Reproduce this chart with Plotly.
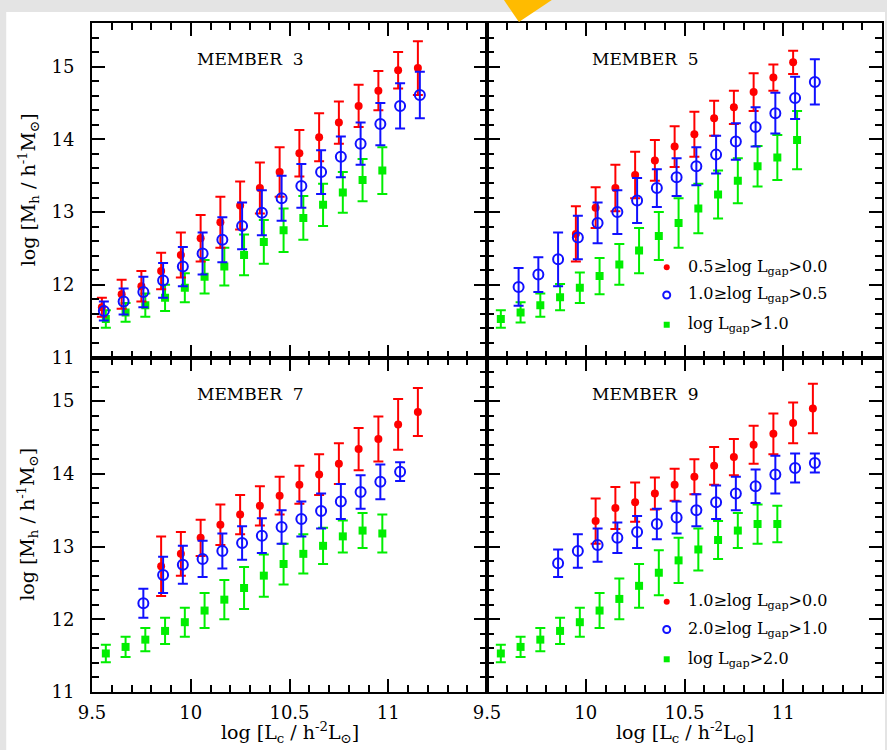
import plotly.graph_objects as go
from plotly.subplots import make_subplots

# ---------------- data ----------------
# MEMBER 3
m3_red_x = [9.55, 9.65, 9.75, 9.85, 9.95, 10.05, 10.15, 10.25, 10.35, 10.45, 10.55, 10.65, 10.75, 10.85, 10.95, 11.05, 11.15]
m3_red_y = [11.69, 11.87, 11.98, 12.19, 12.41, 12.64, 12.86, 13.09, 13.33, 13.55, 13.81, 14.03, 14.23, 14.46, 14.67, 14.95, 14.98]
m3_red_e = [0.13, 0.20, 0.21, 0.25, 0.31, 0.32, 0.35, 0.33, 0.35, 0.34, 0.32, 0.33, 0.29, 0.29, 0.27, 0.25, 0.37]
m3_blue_x = [9.56, 9.66, 9.76, 9.86, 9.96, 10.06, 10.16, 10.26, 10.36, 10.46, 10.56, 10.66, 10.76, 10.86, 10.96, 11.06, 11.16]
m3_blue_y = [11.64, 11.77, 11.90, 12.06, 12.25, 12.43, 12.62, 12.81, 12.99, 13.19, 13.36, 13.55, 13.76, 13.94, 14.21, 14.46, 14.61]
m3_blue_e = [0.13, 0.18, 0.21, 0.24, 0.27, 0.29, 0.31, 0.32, 0.31, 0.31, 0.30, 0.30, 0.28, 0.29, 0.29, 0.31, 0.32]
m3_green_x = [9.57, 9.67, 9.77, 9.87, 9.97, 10.07, 10.17, 10.27, 10.37, 10.47, 10.57, 10.67, 10.77, 10.87, 10.97]
m3_green_y = [11.53, 11.62, 11.72, 11.82, 11.96, 12.11, 12.25, 12.41, 12.59, 12.75, 12.92, 13.10, 13.27, 13.44, 13.57]
m3_green_e = [0.12, 0.13, 0.16, 0.18, 0.20, 0.23, 0.26, 0.28, 0.30, 0.30, 0.30, 0.29, 0.28, 0.29, 0.32]

# MEMBER 5
m5_red_x = [9.95, 10.05, 10.15, 10.25, 10.35, 10.45, 10.55, 10.65, 10.75, 10.85, 10.95, 11.05]
m5_red_y = [12.70, 13.06, 13.33, 13.51, 13.71, 13.90, 14.07, 14.29, 14.44, 14.65, 14.85, 15.06]
m5_red_e = [0.38, 0.28, 0.32, 0.32, 0.28, 0.28, 0.31, 0.24, 0.23, 0.26, 0.18, 0.16]
m5_blue_x = [9.66, 9.76, 9.86, 9.96, 10.06, 10.16, 10.26, 10.36, 10.46, 10.56, 10.66, 10.76, 10.86, 10.96, 11.06, 11.16]
m5_blue_y = [11.97, 12.14, 12.35, 12.65, 12.85, 13.00, 13.16, 13.33, 13.48, 13.63, 13.79, 13.97, 14.17, 14.36, 14.57, 14.79]
m5_blue_e = [0.26, 0.24, 0.37, 0.30, 0.28, 0.30, 0.31, 0.26, 0.26, 0.26, 0.26, 0.25, 0.27, 0.28, 0.29, 0.31]
m5_green_x = [9.57, 9.67, 9.77, 9.87, 9.97, 10.07, 10.17, 10.27, 10.37, 10.47, 10.57, 10.67, 10.77, 10.87, 10.97, 11.07]
m5_green_y = [11.53, 11.62, 11.72, 11.83, 11.96, 12.12, 12.28, 12.47, 12.67, 12.85, 13.05, 13.24, 13.43, 13.63, 13.75, 13.99]
m5_green_e = [0.12, 0.14, 0.16, 0.18, 0.21, 0.25, 0.28, 0.31, 0.33, 0.34, 0.34, 0.33, 0.31, 0.28, 0.31, 0.40]

# MEMBER 7
m7_red_x = [9.85, 9.95, 10.05, 10.15, 10.25, 10.35, 10.45, 10.55, 10.65, 10.75, 10.85, 10.95, 11.05, 11.15]
m7_red_y = [12.73, 12.90, 13.12, 13.30, 13.44, 13.56, 13.70, 13.85, 13.99, 14.14, 14.34, 14.48, 14.68, 14.85]
m7_red_e = [0.41, 0.30, 0.25, 0.28, 0.27, 0.27, 0.26, 0.26, 0.28, 0.28, 0.29, 0.31, 0.35, 0.33]
m7_blue_x = [9.76, 9.86, 9.96, 10.06, 10.16, 10.26, 10.36, 10.46, 10.56, 10.66, 10.76, 10.86, 10.96, 11.06]
m7_blue_y = [12.22, 12.61, 12.75, 12.83, 12.94, 13.05, 13.15, 13.27, 13.38, 13.49, 13.62, 13.75, 13.89, 14.03]
m7_blue_e = [0.20, 0.25, 0.26, 0.25, 0.24, 0.23, 0.24, 0.23, 0.24, 0.24, 0.24, 0.23, 0.24, 0.13]
m7_green_x = [9.57, 9.67, 9.77, 9.87, 9.97, 10.07, 10.17, 10.27, 10.37, 10.47, 10.57, 10.67, 10.77, 10.87, 10.97]
m7_green_y = [11.53, 11.62, 11.72, 11.84, 11.96, 12.12, 12.27, 12.43, 12.60, 12.76, 12.90, 13.01, 13.14, 13.22, 13.18]
m7_green_e = [0.12, 0.14, 0.16, 0.18, 0.20, 0.24, 0.27, 0.29, 0.29, 0.28, 0.27, 0.25, 0.22, 0.24, 0.26]

# MEMBER 9
m9_red_x = [10.05, 10.15, 10.25, 10.35, 10.45, 10.55, 10.65, 10.75, 10.85, 10.95, 11.05, 11.15]
m9_red_y = [13.35, 13.53, 13.61, 13.73, 13.85, 13.96, 14.11, 14.23, 14.40, 14.55, 14.70, 14.90]
m9_red_e = [0.31, 0.29, 0.27, 0.22, 0.22, 0.24, 0.26, 0.25, 0.26, 0.28, 0.28, 0.34]
m9_blue_x = [9.86, 9.96, 10.06, 10.16, 10.26, 10.36, 10.46, 10.56, 10.66, 10.76, 10.86, 10.96, 11.06, 11.16]
m9_blue_y = [12.77, 12.94, 13.02, 13.12, 13.20, 13.31, 13.40, 13.50, 13.61, 13.73, 13.83, 13.99, 14.08, 14.15]
m9_blue_e = [0.19, 0.23, 0.23, 0.21, 0.22, 0.21, 0.22, 0.22, 0.23, 0.23, 0.23, 0.26, 0.20, 0.13]
m9_green_x = [9.57, 9.67, 9.77, 9.87, 9.97, 10.07, 10.17, 10.27, 10.37, 10.47, 10.57, 10.67, 10.77, 10.87, 10.97]
m9_green_y = [11.53, 11.62, 11.72, 11.84, 11.96, 12.12, 12.28, 12.46, 12.64, 12.81, 12.96, 13.09, 13.22, 13.31, 13.31]
m9_green_e = [0.12, 0.14, 0.16, 0.18, 0.20, 0.24, 0.28, 0.30, 0.31, 0.31, 0.29, 0.26, 0.24, 0.27, 0.25]

panel_titles = ["MEMBER&nbsp;&nbsp;3", "MEMBER&nbsp;&nbsp;5", "MEMBER&nbsp;&nbsp;7", "MEMBER&nbsp;&nbsp;9"]
legend_top = ["0.5≥log L<sub>gap</sub>>0.0", "1.0≥log L<sub>gap</sub>>0.5", "log L<sub>gap</sub>>1.0"]
legend_bot = ["1.0≥log L<sub>gap</sub>>0.0", "2.0≥log L<sub>gap</sub>>1.0", "log L<sub>gap</sub>>2.0"]
legend_marker_x = [10.41, 10.41, 10.41]
legend_marker_y = [12.24, 11.86, 11.45]
x_tickvals = [9.5, 10, 10.5, 11]
x_ticktext = ["9.5", "10", "10.5", "11"]
y_tickvals = [11, 12, 13, 14, 15]

# ---------------- figure ----------------
RED, BLUE, GREEN = "#ff0000", "#1010ff", "#00ee00"
FONT = "DejaVu Serif"

fig = make_subplots(rows=2, cols=2, horizontal_spacing=0, vertical_spacing=0)

panels = [
    (1, 1, (m3_red_x, m3_red_y, m3_red_e), (m3_blue_x, m3_blue_y, m3_blue_e), (m3_green_x, m3_green_y, m3_green_e)),
    (1, 2, (m5_red_x, m5_red_y, m5_red_e), (m5_blue_x, m5_blue_y, m5_blue_e), (m5_green_x, m5_green_y, m5_green_e)),
    (2, 1, (m7_red_x, m7_red_y, m7_red_e), (m7_blue_x, m7_blue_y, m7_blue_e), (m7_green_x, m7_green_y, m7_green_e)),
    (2, 2, (m9_red_x, m9_red_y, m9_red_e), (m9_blue_x, m9_blue_y, m9_blue_e), (m9_green_x, m9_green_y, m9_green_e)),
]

def eb(arr, col):
    return dict(type="data", array=arr, visible=True, color=col, thickness=2, width=5)

for r, c, red, blue, green in panels:
    fig.add_trace(go.Scatter(x=green[0], y=green[1], mode="markers",
                             marker=dict(symbol="square", size=8, color=GREEN),
                             error_y=eb(green[2], GREEN), showlegend=False), row=r, col=c)
    fig.add_trace(go.Scatter(x=red[0], y=red[1], mode="markers",
                             marker=dict(symbol="circle", size=8, color=RED),
                             error_y=eb(red[2], RED), showlegend=False), row=r, col=c)
    fig.add_trace(go.Scatter(x=blue[0], y=blue[1], mode="markers",
                             marker=dict(symbol="circle-open", size=10, color=BLUE, line=dict(width=2)),
                             error_y=eb(blue[2], BLUE), showlegend=False), row=r, col=c)

# in-panel legends (right column panels)
for r, labels in [(1, legend_top), (2, legend_bot)]:
    fig.add_trace(go.Scatter(x=legend_marker_x[:1], y=legend_marker_y[:1], mode="markers",
                             marker=dict(symbol="circle", size=6, color=RED), showlegend=False), row=r, col=2)
    fig.add_trace(go.Scatter(x=legend_marker_x[1:2], y=legend_marker_y[1:2], mode="markers",
                             marker=dict(symbol="circle-open", size=7, color=BLUE, line=dict(width=2)),
                             showlegend=False), row=r, col=2)
    fig.add_trace(go.Scatter(x=legend_marker_x[2:], y=legend_marker_y[2:], mode="markers",
                             marker=dict(symbol="square", size=6, color=GREEN), showlegend=False), row=r, col=2)
    xr = "x2" if r == 1 else "x4"
    yr = "y2" if r == 1 else "y4"
    for lab, yv in zip(labels, legend_marker_y):
        fig.add_annotation(x=10.51, y=yv, xref=xr, yref=yr, text=lab, showarrow=False,
                           xanchor="left", yanchor="middle",
                           font=dict(family=FONT, size=16, color="black"))

# panel titles
for i, t in enumerate(panel_titles):
    xr = ["x", "x2", "x3", "x4"][i]
    yr = ["y", "y2", "y3", "y4"][i]
    fig.add_annotation(x=10.30, y=15.1, xref=xr, yref=yr, text=t, showarrow=False,
                       xanchor="center", yanchor="middle",
                       font=dict(family=FONT, size=17, color="black"))

axis_common = dict(showline=True, linecolor="black", linewidth=2, mirror="allticks",
                   ticks="inside", ticklen=13, tickwidth=1.5, tickcolor="black",
                   showgrid=False, zeroline=False,
                   tickfont=dict(family=FONT, size=18, color="black"))

for r in (1, 2):
    for c in (1, 2):
        fig.update_xaxes(range=[9.5, 11.5], tickmode="array", tickvals=x_tickvals, ticktext=x_ticktext,
                         minor=dict(dtick=0.1, tick0=9.5, ticks="inside", ticklen=7, tickwidth=1.5,
                                    tickcolor="black", showgrid=False),
                         showticklabels=(r == 2), ticklabelstandoff=3,
                         row=r, col=c, **axis_common)
        fig.update_yaxes(range=[11, 15.6], tickmode="array", tickvals=y_tickvals,
                         minor=dict(dtick=0.2, tick0=11, ticks="inside", ticklen=7, tickwidth=1.5,
                                    tickcolor="black", showgrid=False),
                         showticklabels=(c == 1), ticklabelstandoff=12,
                         row=r, col=c, **axis_common)

# axis titles
ytitle = "log [M<sub>h</sub> / h<sup>-1</sup>M<sub>⊙</sub>]"
xtitle = "log [L<sub>c</sub> / h<sup>-2</sup>L<sub>⊙</sub>]"
for yc in (0.75, 0.25):
    fig.add_annotation(x=-0.081, y=yc, xref="paper", yref="paper", text=ytitle, textangle=-90,
                       showarrow=False, xanchor="center", yanchor="middle",
                       font=dict(family=FONT, size=19, color="black"))
for xc in (0.25, 0.75):
    fig.add_annotation(x=xc, y=-0.061, xref="paper", yref="paper", text=xtitle,
                       showarrow=False, xanchor="center", yanchor="middle",
                       font=dict(family=FONT, size=19, color="black"))

# page background: grey border, white sheet, orange pointer
W, H, L, T, R, B = 887, 750, 92, 23, 3, 58
pw, ph = W - L - R, H - T - B
def px(xp):
    return (xp - L) / pw
def py(yp):
    return 1 - (yp - T) / ph

fig.add_shape(type="rect", xref="paper", yref="paper", x0=px(6), x1=px(887), y0=py(750), y1=py(12),
              fillcolor="white", line=dict(width=0), layer="below")
fig.add_shape(type="path", xref="paper", yref="paper",
              path=f"M {px(505)} {py(0)} L {px(553)} {py(0)} L {px(520)} {py(22)} Z",
              fillcolor="#ffbb00", line=dict(width=0), layer="above")

fig.update_layout(width=W, height=H, margin=dict(l=L, r=R, t=T, b=B),
                  paper_bgcolor="#e4e4e4", plot_bgcolor="white", showlegend=False)

fig.write_html("out.html")
